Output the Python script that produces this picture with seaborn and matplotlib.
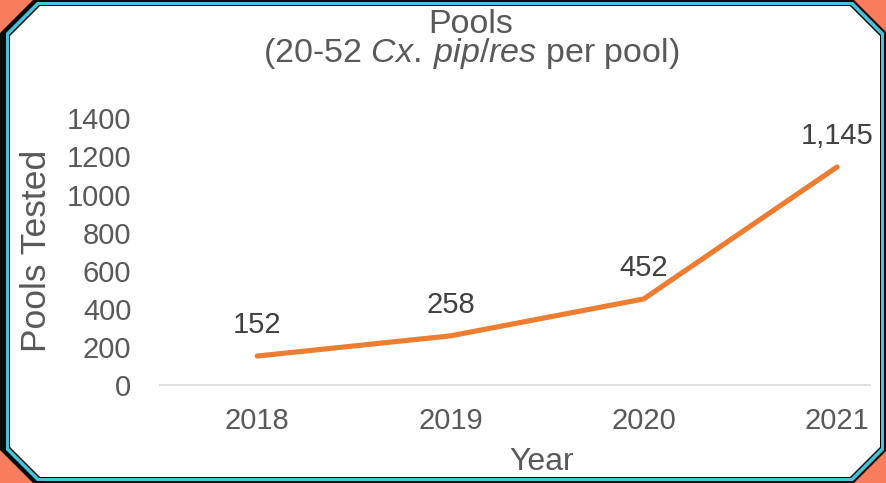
import numpy as np
import pandas as pd
import matplotlib
matplotlib.use("Agg")
import matplotlib.pyplot as plt
from matplotlib.patches import Polygon
import seaborn as sns

years = ["2018", "2019", "2020", "2021"]
pools = [152, 258, 452, 1145]
yticks = [0, 200, 400, 600, 800, 1000, 1200, 1400]

sns.set_theme(style="white")
plt.rcParams["font.family"] = ["Liberation Sans", "DejaVu Sans"]
plt.rcParams["mathtext.fontset"] = "custom"
plt.rcParams["mathtext.rm"] = "Liberation Sans"
plt.rcParams["mathtext.it"] = "Liberation Sans:italic"

W, H = 887, 483
fig = plt.figure(figsize=(W / 100, H / 100), dpi=100, facecolor="#F97C5C")


def px(x, y):
    return (x / W, 1 - y / H)


def octagon(L, T, R, B, c):
    pts = [(L, T + c), (L + c, T), (R - c, T), (R, T + c),
           (R, B - c), (R - c, B), (L + c, B), (L, B - c)]
    return [px(x, y) for x, y in pts]


layers = [
    ((0, 0, W, H, 33), "#0A0A0A"),
    ((6, 2, W - 3, H - 2, 31), "#45C3DA"),
    ((9, 5, W - 6, H - 5, 30), "#0A0A0A"),
    ((10, 6, W - 7, H - 6, 30), "white"),
]
for (L, T, R, B, c), col in layers:
    fig.patches.append(Polygon(octagon(L, T, R, B, c), closed=True,
                               transform=fig.transFigure, facecolor=col,
                               edgecolor="none", zorder=-10))

left, right, top, bottom = 160.5, 870, 118.4, 385
ax = fig.add_axes([left / W, 1 - bottom / H, (right - left) / W, (bottom - top) / H])
ax.set_facecolor("none")

df = pd.DataFrame({"Year": years, "Pools": pools})
sns.lineplot(data=df, x="Year", y="Pools", ax=ax, color="#ED7D31",
             linewidth=3.7, sort=False, solid_capstyle="round")

ax.set_xlim(-0.5, -0.5 + (right - left) / 193.3)
ax.set_ylim(0, 1400)
ax.set_yticks(yticks)
ax.set_yticklabels([str(v) for v in yticks])
ax.set_xticks(range(len(years)))
ax.set_xticklabels(years)
ax.tick_params(axis="both", length=0, labelsize=21, colors="#595959")
ax.tick_params(axis="x", pad=16)
ax.tick_params(axis="y", pad=21)
ax.set_xlabel("")
ax.set_ylabel("")
for s in ["top", "right", "left"]:
    ax.spines[s].set_visible(False)
ax.spines["bottom"].set_color("#D9D9D9")
ax.spines["bottom"].set_linewidth(1.2)
ax.grid(False)

for i, v in enumerate(pools):
    ax.annotate(f"{v:,}", (i, v), xytext=(0, 16.5), textcoords="offset points",
                ha="center", va="baseline", fontsize=21, color="#404040")

fig.text(*px(471, 62),
         "Pools\n(20-52 $\\mathit{Cx.\\:pip/res}$ per pool)",
         ha="center", va="baseline", fontsize=24.5, color="#595959",
         linespacing=0.85, multialignment="center")
fig.text(*px(542, 470), "Year", ha="center", va="baseline",
         fontsize=23, color="#595959")
fig.text(*px(37, 251), "Pools Tested", ha="center", va="center",
         rotation=90, fontsize=25.5, color="#595959")

fig.savefig("out.png", dpi=100, facecolor=fig.get_facecolor())
